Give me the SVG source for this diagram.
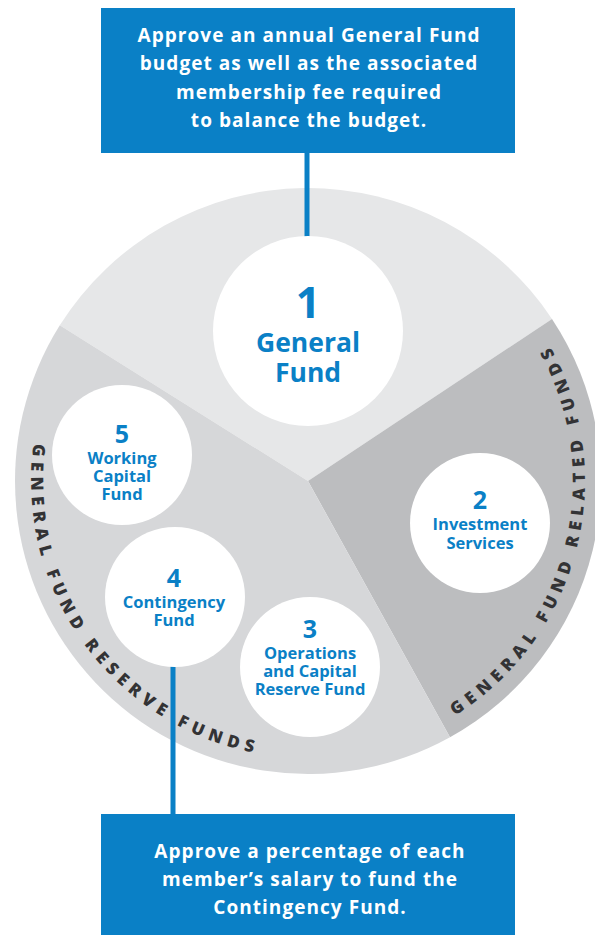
<svg xmlns="http://www.w3.org/2000/svg" width="595" height="936" viewBox="0 0 595 936">
  <style>
    .box { fill: #0a80c6; }
    .boxtxt { font-family: "Open Sans", "Liberation Sans", sans-serif; font-weight: 700; font-size: 19px; letter-spacing: 1.05px; fill: #ffffff; text-anchor: middle; }
    .node { fill: #ffffff; }
    .num { font-family: "Open Sans", "Liberation Sans", sans-serif; font-weight: 700; font-size: 25px; fill: #0a80c6; text-anchor: middle; }
    .lbl { font-family: "Open Sans", "Liberation Sans", sans-serif; font-weight: 700; font-size: 16.5px; fill: #0a80c6; text-anchor: middle; }
    .ring { font-family: "Open Sans", "Liberation Sans", sans-serif; font-weight: 800; font-size: 17px; letter-spacing: 5.8px; fill: #333335; }
    .conn { stroke: #0a80c6; stroke-width: 5; fill: none; }
  </style>
  <defs>
    <path id="arcL" d="M 55.0 368.3 A 277 277 0 0 0 336.95 756.5"/>
    <path id="arcR" d="M 384.8 747.1 A 277 277 0 0 0 500.1 281.4"/>
  </defs>

  <g id="wheel">
    <path d="M 308 481 L 59.8 325.3 A 293 293 0 0 1 552.0 318.9 Z" fill="#e6e7e8"/>
    <path d="M 308 481 L 552.0 318.9 A 293 293 0 0 1 450.0 737.3 Z" fill="#bcbdbf"/>
    <path d="M 308 481 L 450.0 737.3 A 293 293 0 0 1 59.8 325.3 Z" fill="#d6d7d9"/>
    <text class="ring"><textPath href="#arcL" startOffset="50%" text-anchor="middle">GENERAL FUND RESERVE FUNDS</textPath></text>
    <text class="ring"><textPath href="#arcR" startOffset="50%" text-anchor="middle">GENERAL FUND RELATED FUNDS</textPath></text>
  </g>

  <g id="connectors">
    <line class="conn" x1="307" y1="153" x2="307" y2="237"/>
    <line class="conn" x1="173" y1="666" x2="173" y2="815"/>
  </g>

  <g id="box-top">
    <rect class="box" x="101" y="8" width="414" height="145"/>
    <text class="boxtxt" x="309" y="42">Approve an annual General Fund</text>
    <text class="boxtxt" x="309" y="70">budget as well as the associated</text>
    <text class="boxtxt" x="309" y="98.5">membership fee required</text>
    <text class="boxtxt" x="309" y="127">to balance the budget.</text>
  </g>

  <g id="box-bottom">
    <rect class="box" x="101" y="814" width="414" height="121"/>
    <text class="boxtxt" x="310" y="858">Approve a percentage of each</text>
    <text class="boxtxt" x="310" y="886">member’s salary to fund the</text>
    <text class="boxtxt" x="310" y="914">Contingency Fund.</text>
  </g>

  <g id="node-1">
    <circle class="node" cx="308" cy="331" r="95"/>
    <text class="num" x="308" y="318" style="font-size:43px">1</text>
    <text class="lbl" x="308" y="352" style="font-size:26.5px">General</text>
    <text class="lbl" x="308" y="382" style="font-size:26.5px">Fund</text>
  </g>

  <g id="node-2">
    <circle class="node" cx="480" cy="523" r="70"/>
    <text class="num" x="480" y="509">2</text>
    <text class="lbl" x="480" y="530">Investment</text>
    <text class="lbl" x="480" y="549">Services</text>
  </g>

  <g id="node-3">
    <circle class="node" cx="310" cy="667" r="70"/>
    <text class="num" x="310" y="638">3</text>
    <text class="lbl" x="310" y="659">Operations</text>
    <text class="lbl" x="310" y="677">and Capital</text>
    <text class="lbl" x="310" y="695">Reserve Fund</text>
  </g>

  <g id="node-4">
    <circle class="node" cx="175" cy="597" r="70"/>
    <text class="num" x="174" y="587">4</text>
    <text class="lbl" x="174" y="608">Contingency</text>
    <text class="lbl" x="174" y="626">Fund</text>
  </g>

  <g id="node-5">
    <circle class="node" cx="122" cy="455" r="70"/>
    <text class="num" x="122" y="443">5</text>
    <text class="lbl" x="122" y="464">Working</text>
    <text class="lbl" x="122" y="482">Capital</text>
    <text class="lbl" x="122" y="500">Fund</text>
  </g>
</svg>
